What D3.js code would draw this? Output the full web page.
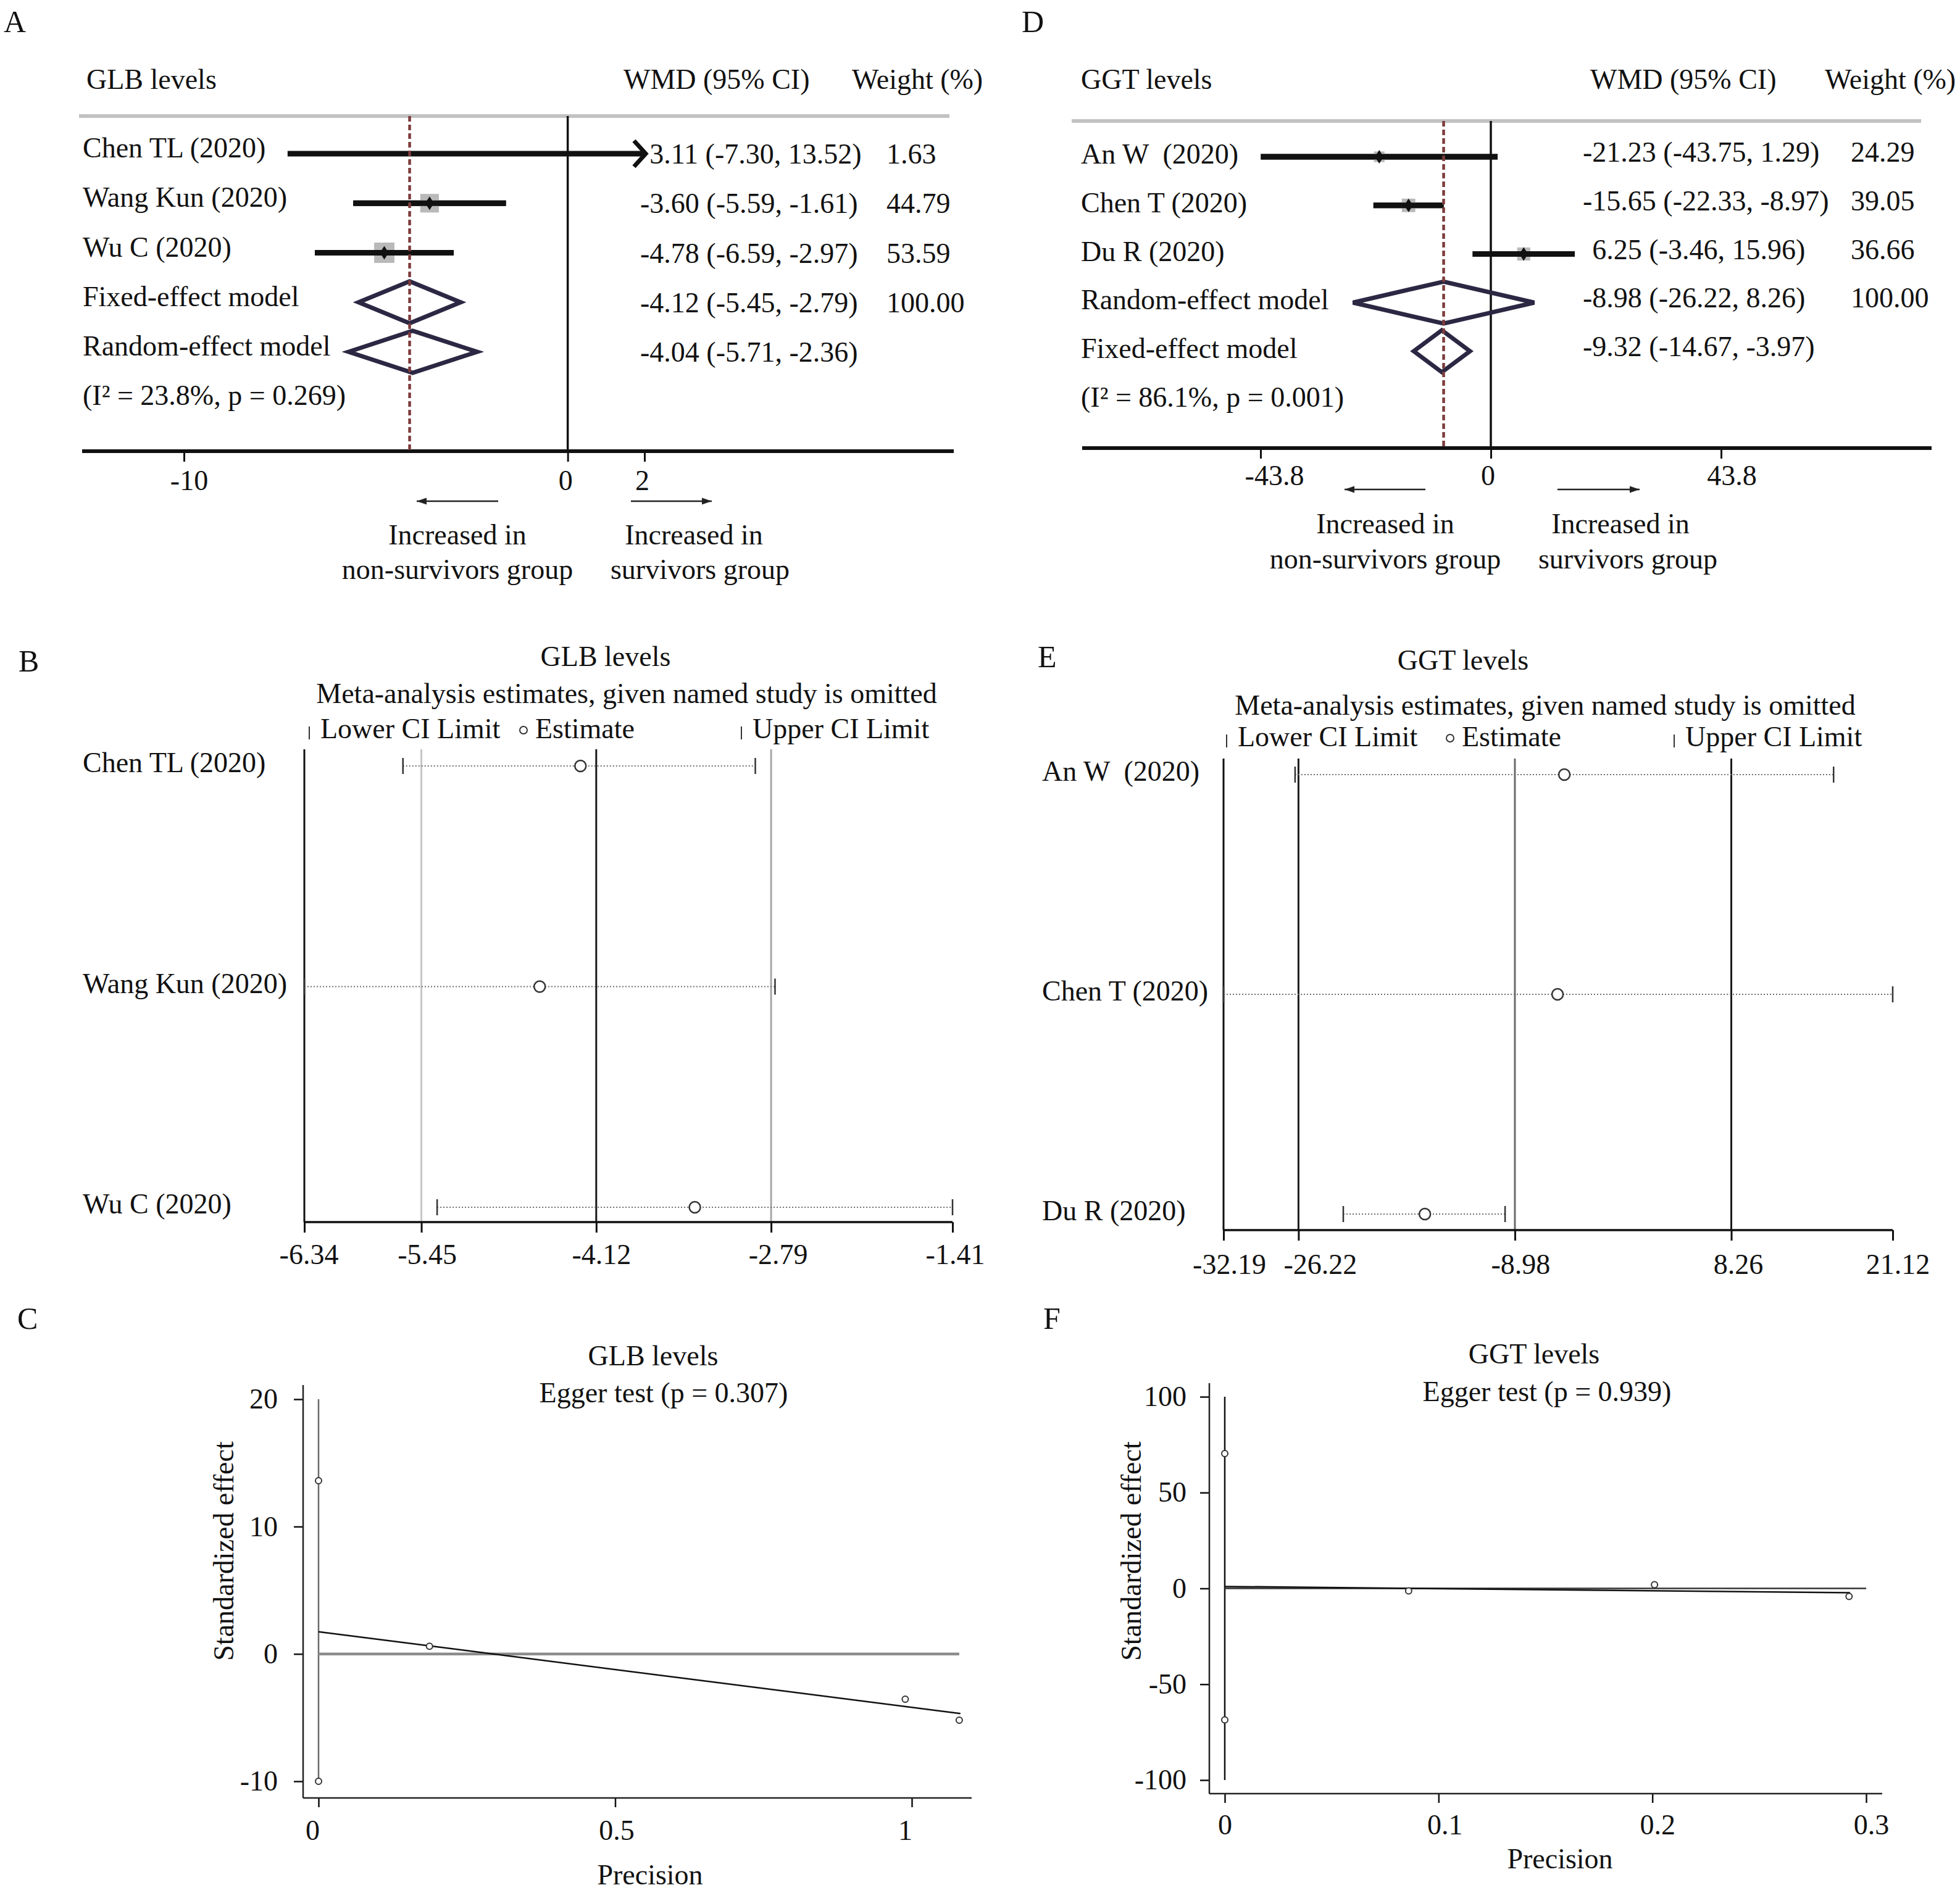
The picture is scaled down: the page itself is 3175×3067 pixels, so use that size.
<!DOCTYPE html>
<html>
<head>
<meta charset="utf-8">
<script src="https://cdn.jsdelivr.net/npm/d3@7"></script>
<style>
  body { margin: 0; background: #fff; }
  svg { display: block; background: #fff; }
  text { font-family: "Liberation Serif", "Times New Roman", serif; fill: #111; white-space: pre; }
</style>
</head>
<body>
<svg id="chart" width="3175" height="3067"></svg>
<script>
// ================= DATA =================
// Panel A – GLB forest plot
const glbTitle = "GLB levels";
const glbStudies = ["Chen TL (2020)", "Wang Kun (2020)", "Wu C (2020)"];
const glbWMD = [3.11, -3.60, -4.78];
const glbLower = [-7.30, -5.59, -6.59];
const glbUpper = [13.52, -1.61, -2.97];
const glbWeight = [1.63, 44.79, 53.59];
const glbModels = ["Fixed-effect model", "Random-effect model"];
const glbModelWMD = [-4.12, -4.04];
const glbModelLower = [-5.45, -5.71];
const glbModelUpper = [-2.79, -2.36];
const glbModelWeight = ["100.00", ""];
const glbHet = "(I\u00B2 = 23.8%, p = 0.269)";
const glbTicks = [-10, 0, 2];

// Panel D – GGT forest plot
const ggtTitle = "GGT levels";
const ggtStudies = ["An W  (2020)", "Chen T (2020)", "Du R (2020)"];
const ggtWMD = [-21.23, -15.65, 6.25];
const ggtLower = [-43.75, -22.33, -3.46];
const ggtUpper = [1.29, -8.97, 15.96];
const ggtWeight = [24.29, 39.05, 36.66];
const ggtModels = ["Random-effect model", "Fixed-effect model"];
const ggtModelWMD = [-8.98, -9.32];
const ggtModelLower = [-26.22, -14.67];
const ggtModelUpper = [8.26, -3.97];
const ggtModelWeight = ["100.00", ""];
const ggtHet = "(I\u00B2 = 86.1%, p = 0.001)";
const ggtTicks = [-43.8, 0, 43.8];

const headerCols = ["WMD (95% CI)", "Weight (%)"];
const leftNote = ["Increased in", "non-survivors group"];
const rightNote = ["Increased in", "survivors group"];

// Panel B – GLB sensitivity (leave-one-out)
const glbOmitEst = [-4.24, -4.55, -3.37];
const glbOmitLower = [-5.59, -6.34, -5.33];
const glbOmitUpper = [-2.91, -2.76, -1.41];
const glbOmitTicks = [-6.34, -5.45, -4.12, -2.79, -1.41];
const glbOmitRefs = [-5.45, -4.12, -2.79];

// Panel E – GGT sensitivity (leave-one-out)
const ggtOmitEst = [-5.04, -5.58, -16.15];
const ggtOmitLower = [-26.49, -32.19, -22.65];
const ggtOmitUpper = [16.41, 21.12, -9.76];
const ggtOmitTicks = [-32.19, -26.22, -8.98, 8.26, 21.12];
const ggtOmitRefs = [-26.22, -8.98, 8.26];

const omitSubtitle = "Meta-analysis estimates, given named study is omitted";
const omitLegend = ["Lower CI Limit", "Estimate", "Upper CI Limit"];

// Panel C – GLB Egger
const glbPrecision = [0, 0, 0.187, 0.989, 1.08];
const glbStdEffect = [13.6, -10.0, 0.6, -3.55, -5.2];
const glbEggerLineX = [0, 1.082];
const glbEggerLineY = [1.74, -4.68];
const glbEggerXTicks = [0, 0.5, 1];
const glbEggerYTicks = [-10, 0, 10, 20];
const glbEggerText = "Egger test (p = 0.307)";

// Panel F – GGT Egger
const ggtPrecision = [0, 0, 0.086, 0.201, 0.292];
const ggtStdEffect = [70.4, -68.6, -1.3, 1.9, -4.2];
const ggtEggerLineX = [0, 0.2925];
const ggtEggerLineY = [1.0, -2.25];
const ggtEggerXTicks = [0, 0.1, 0.2, 0.3];
const ggtEggerYTicks = [-100, -50, 0, 50, 100];
const ggtEggerText = "Egger test (p = 0.939)";

const panelLetters = ["A", "B", "C", "D", "E", "F"];

// ================= DRAWING =================
const svg = d3.select("#chart");
const FS = 46;

function txt(g, x, y, s, anchor = "start", size = FS) {
  return g.append("text").attr("x", x).attr("y", y).attr("dy", "0.35em")
    .attr("text-anchor", anchor).attr("font-size", size).text(s);
}
function line(g, x1, y1, x2, y2, stroke, w) {
  return g.append("line").attr("x1", x1).attr("y1", y1).attr("x2", x2).attr("y2", y2)
    .attr("stroke", stroke).attr("stroke-width", w);
}
function arrow(g, x1, x2, y) {
  line(g, x1, y, x2, y, "#222", 2.5);
  const dir = x2 > x1 ? 1 : -1;
  g.append("path").attr("d", d3.line()([[x2, y], [x2 - dir * 16, y - 5.5], [x2 - dir * 16, y + 5.5]]) + "Z")
    .attr("fill", "#222");
}
function styleAxis(sel, tw, dxs) {
  sel.select(".domain").remove();
  sel.attr("font-size", FS);
  sel.selectAll(".tick line").attr("stroke", "#111").attr("stroke-width", tw);
  if (dxs) sel.selectAll(".tick text").attr("dx", (d, i) => dxs[i] || 0);
}
const fmtTick = d => String(d);

// hyphen width for aligning positive numbers
const probe = svg.append("text").attr("font-size", FS).text("-");
const hyphenW = probe.node().getComputedTextLength();
probe.remove();

function forest(o) {
  const g = svg.append("g");
  const x = d3.scaleLinear().domain([o.ticks[0], o.ticks[o.ticks.length - 1]]).range(o.range);
  const rowY = i => o.rowY0 + i * o.rowStep;

  txt(g, o.headX[0], o.headY, o.title);
  txt(g, o.headX[1], o.headY, headerCols[0]);
  txt(g, o.headX[2], o.headY, headerCols[1]);
  line(g, o.grayX[0], o.grayY, o.grayX[1], o.grayY, "#c2c2c2", 6);

  // zero line
  line(g, x(0), o.grayY, x(0), o.axisY, "#111", 3.5);

  // axis
  const ax = g.append("g").attr("transform", `translate(0,${o.axisY})`)
    .call(d3.axisBottom(x).tickValues(o.ticks).tickSize(17).tickPadding(o.tickPad).tickFormat(fmtTick));
  styleAxis(ax, 3, o.labelDx);
  line(g, o.axisX[0], o.axisY, o.axisX[1], o.axisY, "#111", 6);

  // studies
  o.names.forEach((nm, i) => {
    const y = rowY(i);
    txt(g, o.labelX, y + o.labelDy, nm);
    const s = `${o.est[i].toFixed(2)} (${o.lo[i].toFixed(2)}, ${o.hi[i].toFixed(2)})`;
    txt(g, o.numX + (o.est[i] >= 0 ? hyphenW : 0), y + o.numDy, s);
    txt(g, o.wtX, y + o.numDy, o.wt[i].toFixed(2));
    const xl = x(o.lo[i]);
    let xr = x(o.hi[i]);
    const clipped = xr > o.clipX;
    if (clipped) xr = o.clipX;
    line(g, xl, y, xr, y, "#111", 9);
    if (clipped) {
      g.append("path").attr("d", d3.line()([[xr - 19, y - 21], [xr, y], [xr - 19, y + 21]]))
        .attr("fill", "none").attr("stroke", "#111").attr("stroke-width", 7);
    }
    const xe = x(o.est[i]);
    if (xe <= o.clipX) {
      const sz = o.boxK * Math.sqrt(o.wt[i]);
      g.append("rect").attr("x", xe - sz / 2).attr("y", y - sz / 2).attr("width", sz).attr("height", sz)
        .attr("fill", "#b9b9b9");
      line(g, xl, y, xr, y, "#111", 9);
      g.append("path").attr("d", d3.line()([[xe - 7, y], [xe, y - 11], [xe + 7, y], [xe, y + 11]]) + "Z")
        .attr("fill", "#111");
    }
  });

  // models
  const n = o.names.length;
  o.mNames.forEach((nm, j) => {
    const y = rowY(n + j);
    txt(g, o.labelX, y + o.labelDy, nm);
    txt(g, o.numX, y + o.numDy, `${o.mEst[j].toFixed(2)} (${o.mLo[j].toFixed(2)}, ${o.mHi[j].toFixed(2)})`);
    if (o.mWt[j]) txt(g, o.wtX, y + o.numDy, o.mWt[j]);
    g.append("path").attr("d", d3.line()([[x(o.mLo[j]), y], [x(o.mEst[j]), y - 34], [x(o.mHi[j]), y], [x(o.mEst[j]), y + 34]]) + "Z")
      .attr("fill", "none").attr("stroke", "#2c2743").attr("stroke-width", 7).attr("stroke-linejoin", "miter");
  });
  txt(g, o.labelX, rowY(n + o.mNames.length) + o.labelDy, o.het);

  // dashed reference line (overall estimate)
  line(g, x(o.mEst[0]), o.grayY, x(o.mEst[0]), o.axisY, "#7d3c3c", 4.5).attr("stroke-dasharray", "9,5");

  // direction arrows
  arrow(g, o.arrL[0], o.arrL[1], o.arrY);
  arrow(g, o.arrR[0], o.arrR[1], o.arrY);
  txt(g, o.noteL, o.noteY[0], leftNote[0], "middle");
  txt(g, o.noteL, o.noteY[1], leftNote[1], "middle");
  txt(g, o.noteR[0], o.noteY[0], rightNote[0], "middle");
  txt(g, o.noteR[1], o.noteY[1], rightNote[1], "middle");
}

forest({
  title: glbTitle, names: glbStudies, est: glbWMD, lo: glbLower, hi: glbUpper, wt: glbWeight,
  mNames: glbModels, mEst: glbModelWMD, mLo: glbModelLower, mHi: glbModelUpper, mWt: glbModelWeight,
  het: glbHet, ticks: glbTicks,
  range: [298, 1044], axisX: [133, 1545], axisY: 731, tickPad: 13, labelDx: [8, -4, -4],
  headX: [140, 1010, 1380], headY: 128, grayX: [128, 1538], grayY: 188,
  rowY0: 249, rowStep: 80.25, labelX: 134, labelDy: -10, numX: 1037, numDy: 0, wtX: 1436,
  clipX: 1046, boxK: 4.5,
  arrL: [807, 675], arrR: [1022, 1153], arrY: 812, noteL: 741, noteR: [1124, 1134], noteY: [866, 922]
});

forest({
  title: ggtTitle, names: ggtStudies, est: ggtWMD, lo: ggtLower, hi: ggtUpper, wt: ggtWeight,
  mNames: ggtModels, mEst: ggtModelWMD, mLo: ggtModelLower, mHi: ggtModelUpper, mWt: ggtModelWeight,
  het: ggtHet, ticks: ggtTicks,
  range: [2042, 2788], axisX: [1753, 3129], axisY: 726, tickPad: 10, labelDx: [22, -5, 17],
  headX: [1751, 2576, 2956], headY: 128, grayX: [1736, 3112], grayY: 196,
  rowY0: 254, rowStep: 78.75, labelX: 1751, labelDy: -5, numX: 2564, numDy: -8, wtX: 2998,
  clipX: 9999, boxK: 3.5,
  arrL: [2309, 2178], arrR: [2523, 2656], arrY: 793, noteL: 2244, noteR: [2625, 2637], noteY: [848, 905]
});

function omit(o) {
  const g = svg.append("g");
  const x = d3.scaleLinear().domain([o.ticks[0], o.ticks[o.ticks.length - 1]]).range(o.range);
  txt(g, o.titleX, o.titleY, o.title, "middle");
  txt(g, o.subX, o.subY, omitSubtitle, "middle");
  // legend
  const ly = o.legY;
  line(g, o.leg[0], ly - 3, o.leg[0], ly + 18, "#333", 2);
  txt(g, o.leg[0] + 18, ly, omitLegend[0]);
  g.append("circle").attr("cx", o.leg[1]).attr("cy", ly + 3).attr("r", 6).attr("fill", "#fff").attr("stroke", "#333").attr("stroke-width", 2);
  txt(g, o.leg[1] + 19, ly, omitLegend[1]);
  line(g, o.leg[2], ly - 3, o.leg[2], ly + 18, "#333", 2);
  txt(g, o.leg[2] + 18, ly, omitLegend[2]);

  // reference lines
  o.refs.forEach((r, k) => line(g, x(r), o.top, x(r), o.bottom, o.refColors[k], 3));
  // left axis
  line(g, o.range[0], o.top, o.range[0], o.bottom, "#111", 3);
  // bottom axis
  const ax = g.append("g").attr("transform", `translate(0,${o.bottom})`)
    .call(d3.axisBottom(x).tickValues(o.ticks).tickSize(17).tickPadding(o.tickPad).tickFormat(fmtTick));
  styleAxis(ax, 3, o.labelDx);
  line(g, o.range[0], o.bottom, o.range[1], o.bottom, "#111", 3.5);

  o.names.forEach((nm, i) => {
    const y = o.rowY0 + i * o.rowStep;
    txt(g, o.labelX, y + o.labelDy, nm);
    line(g, x(o.lo[i]), y, x(o.hi[i]), y, "#6e6e6e", 2.2).attr("stroke-dasharray", "2,3");
    line(g, x(o.lo[i]), y - 13, x(o.lo[i]), y + 13, "#333", 2.5);
    line(g, x(o.hi[i]), y - 13, x(o.hi[i]), y + 13, "#333", 2.5);
    g.append("circle").attr("cx", x(o.est[i])).attr("cy", y).attr("r", 9)
      .attr("fill", "#fff").attr("stroke", "#333").attr("stroke-width", 2.5);
  });
}

omit({
  title: glbTitle, names: glbStudies, est: glbOmitEst, lo: glbOmitLower, hi: glbOmitUpper,
  ticks: glbOmitTicks, refs: glbOmitRefs, refColors: ["#c6c6c6", "#1a1a1a", "#a6a6a6"],
  range: [493, 1543], top: 1214, bottom: 1980, tickPad: 18, labelDx: [7, 9, 8, 11, 4],
  titleX: 981, titleY: 1063, subX: 1015, subY: 1123, legY: 1180, leg: [501, 848, 1201],
  rowY0: 1241, rowStep: 357.5, labelX: 134, labelDy: -6
});

omit({
  title: ggtTitle, names: ggtStudies, est: ggtOmitEst, lo: ggtOmitLower, hi: ggtOmitUpper,
  ticks: ggtOmitTicks, refs: ggtOmitRefs, refColors: ["#1a1a1a", "#6a6a6a", "#1a1a1a"],
  range: [1982, 3066], top: 1229, bottom: 1993, tickPad: 21, labelDx: [9, 35, 9, 11, 8],
  titleX: 2370, titleY: 1069, subX: 2503, subY: 1142, legY: 1193, leg: [1987, 2349, 2712],
  rowY0: 1255, rowStep: 356, labelX: 1688, labelDy: -6
});

function egger(o) {
  const g = svg.append("g");
  const x = d3.scaleLinear().domain([o.xTicks[0], o.xTicks[o.xTicks.length - 1]]).range(o.xRange);
  const y = d3.scaleLinear().domain([d3.min(o.yTicks), d3.max(o.yTicks)]).range(o.yRange);
  txt(g, o.titleX, o.titleY, o.title, "middle");
  txt(g, o.eggX, o.eggY, o.egg, "middle");

  const ay = g.append("g").attr("transform", `translate(${o.axX},0)`)
    .call(d3.axisLeft(y).tickValues(o.yTicks).tickSize(15).tickPadding(o.yPad).tickFormat(fmtTick));
  styleAxis(ay, 2.5);
  const axb = g.append("g").attr("transform", `translate(0,${o.axBottom})`)
    .call(d3.axisBottom(x).tickValues(o.xTicks).tickSize(15).tickPadding(o.xPad).tickFormat(fmtTick));
  styleAxis(axb, 2.5, o.xDx);
  line(g, o.axX, o.axTop, o.axX, o.axBottom, "#222", 2.5);
  line(g, o.axX, o.axBottom, o.axRight, o.axBottom, "#222", 2.5);

  // vertical line at precision 0 and zero line
  line(g, x(0), y(d3.max(o.yTicks)), x(0), y(d3.min(o.yTicks)), o.vColor, 2.5);
  line(g, x(0), y(0), x(o.zeroEnd), y(0), o.zColor, o.zWidth);
  // regression line
  g.append("path").attr("d", d3.line().x(d => x(d[0])).y(d => y(d[1]))(d3.zip(o.lineX, o.lineY)))
    .attr("stroke", "#111").attr("stroke-width", 2.5).attr("fill", "none");
  // points
  g.selectAll(".pt").data(d3.zip(o.px, o.py)).join("circle")
    .attr("cx", d => x(d[0])).attr("cy", d => y(d[1])).attr("r", 5)
    .attr("fill", "#fff").attr("stroke", "#333").attr("stroke-width", 2);

  txt(g, o.xlabX, o.xlabY, "Precision", "middle");
  g.append("text").attr("transform", `translate(${o.ylabX},${o.ylabY}) rotate(-90)`)
    .attr("dy", "0.35em").attr("text-anchor", "middle").attr("font-size", FS).text("Standardized effect");
}

egger({
  title: glbTitle, egg: glbEggerText, px: glbPrecision, py: glbStdEffect,
  lineX: glbEggerLineX, lineY: glbEggerLineY, xTicks: glbEggerXTicks, yTicks: glbEggerYTicks,
  xRange: [516, 1477], yRange: [2886, 2267], axX: 491, axTop: 2244, axBottom: 2913, axRight: 1574,
  yPad: 26, xPad: 20, xDx: [-10, 2, -11], vColor: "#6a6a6a", zColor: "#8c8c8c", zWidth: 4.5, zeroEnd: d3.max(glbPrecision),
  titleX: 1058, titleY: 2196, eggX: 1075, eggY: 2256, xlabX: 1053, xlabY: 3037, ylabX: 362, ylabY: 2513
});

egger({
  title: ggtTitle, egg: ggtEggerText, px: ggtPrecision, py: ggtStdEffect,
  lineX: ggtEggerLineX, lineY: ggtEggerLineY, xTicks: ggtEggerXTicks, yTicks: ggtEggerYTicks,
  xRange: [1984, 3023], yRange: [2884, 2263], axX: 1959, axTop: 2241, axBottom: 2906, axRight: 3049,
  yPad: 22, xPad: 18, xDx: [0, 10, 8, 8], vColor: "#111", zColor: "#333", zWidth: 2.5, zeroEnd: 0.3,
  titleX: 2485, titleY: 2193, eggX: 2506, eggY: 2254, xlabX: 2527, xlabY: 3011, ylabX: 1832, ylabY: 2513
});

// panel letters
const letterPos = [[6, 34], [30, 1070], [28, 2135], [1655, 34], [1681, 1063], [1690, 2135]];
panelLetters.forEach((L, i) => txt(svg, letterPos[i][0], letterPos[i][1], L, "start", 50));
</script>
</body>
</html>
